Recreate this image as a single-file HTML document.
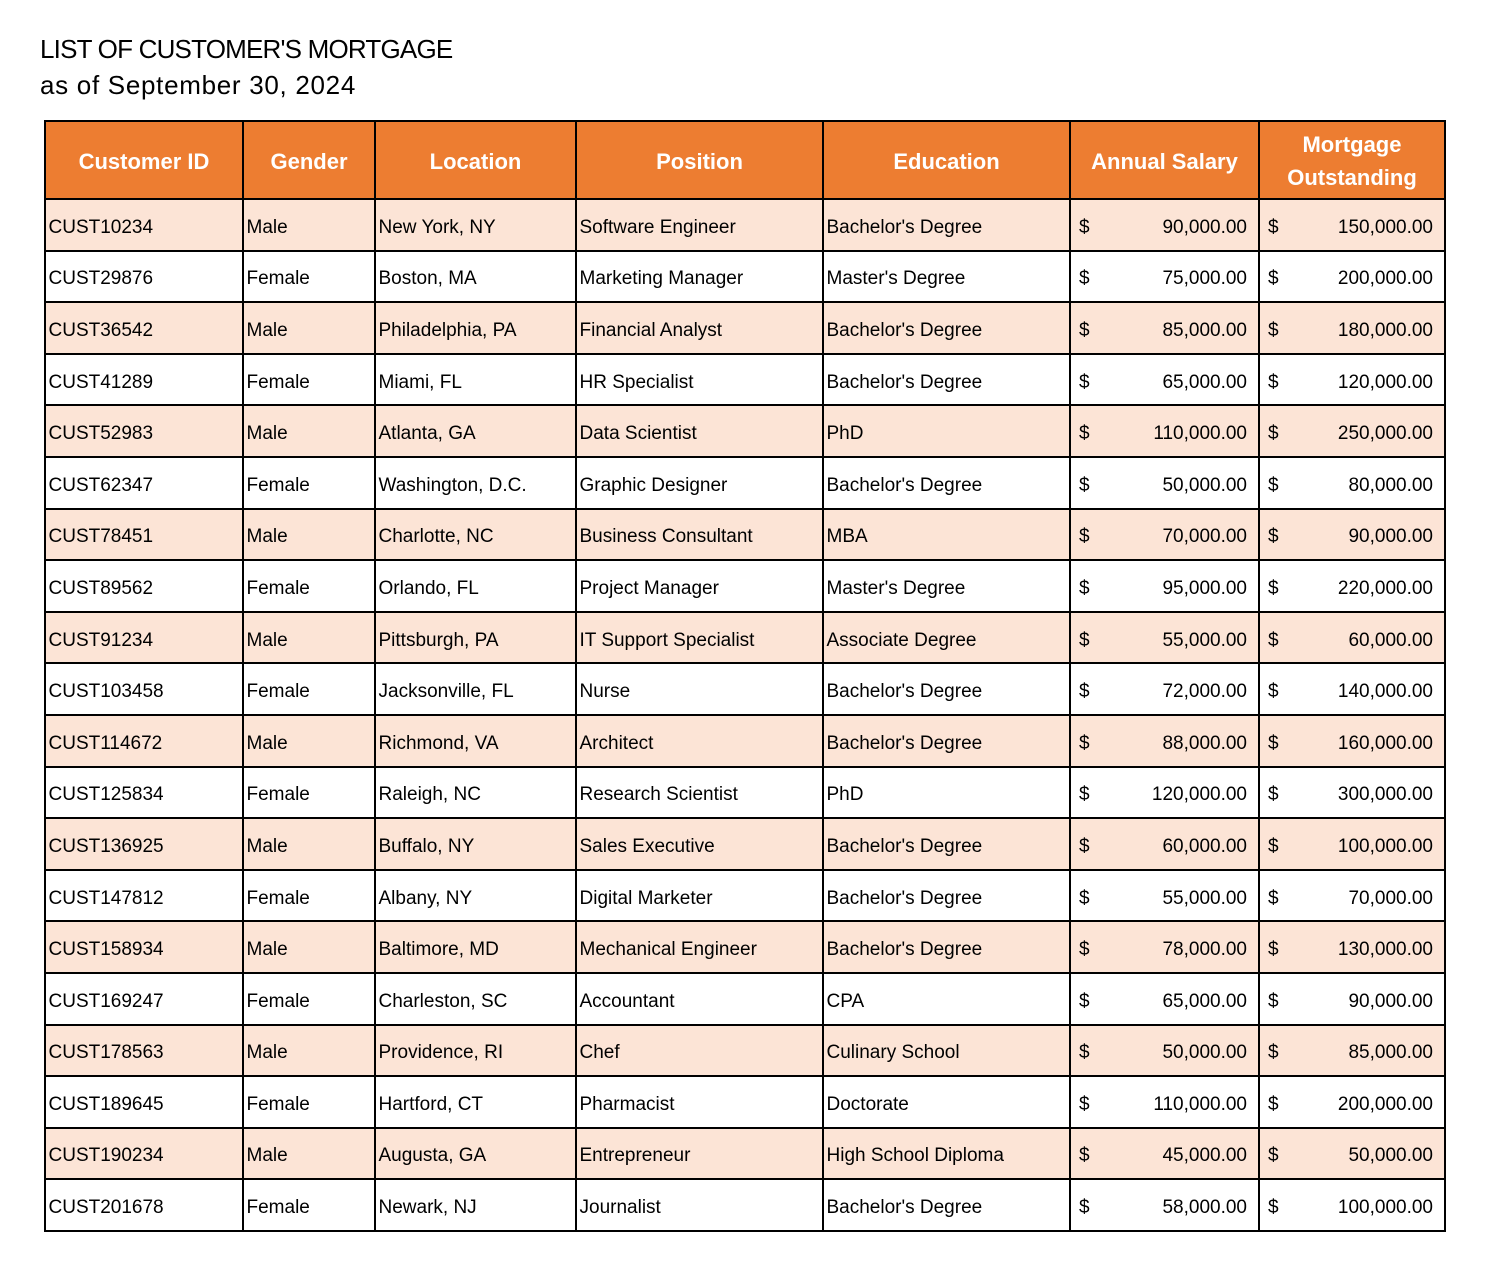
<!DOCTYPE html>
<html>
<head>
<meta charset="utf-8">
<style>
  html, body { margin:0; padding:0; background:#fff; }
  body { width:1502px; height:1281px; position:relative; overflow:hidden;
         font-family:"Liberation Sans", Arial, sans-serif; color:#000; }
  .t1 { position:absolute; left:40px; top:34px; font-size:26px; letter-spacing:-0.8px; line-height:30px; white-space:nowrap; }
  .t2 { position:absolute; left:40px; top:70px; font-size:26px; letter-spacing:0.7px; line-height:30px; white-space:nowrap; }
  .tbl { position:absolute; left:44px; top:120px; border-left:2px solid #000; border-top:2px solid #000; }
  .row { display:grid; grid-template-columns:198px 132px 201px 247px 247px 189px 186px; height:51.6px; }
  .row.h { height:78px; background:#ED7D31; }
  .row.o { background:#FCE4D6; }
  .row > div { box-sizing:border-box; border-right:2px solid #000; border-bottom:2px solid #000;
               display:flex; align-items:center; padding-left:2.5px; padding-top:6px; font-size:19px; white-space:nowrap; overflow:hidden; }
  .row.h > div { justify-content:center; padding-left:0; padding-top:2px; color:#fff; font-weight:bold; font-size:22px; text-align:center; line-height:33px; }
  .row > div.c { justify-content:space-between; padding-left:8px; padding-right:11px; }
</style>
</head>
<body>
<div class="t1">LIST OF CUSTOMER'S MORTGAGE</div>
<div class="t2">as of September 30, 2024</div>
<div class="tbl">
  <div class="row h"><div>Customer ID</div><div>Gender</div><div>Location</div><div>Position</div><div>Education</div><div>Annual Salary</div><div>Mortgage<br>Outstanding</div></div>
  <div class="row o"><div>CUST10234</div><div>Male</div><div>New York, NY</div><div>Software Engineer</div><div>Bachelor's Degree</div><div class="c"><span>$</span><span>90,000.00</span></div><div class="c"><span>$</span><span>150,000.00</span></div></div>
  <div class="row"><div>CUST29876</div><div>Female</div><div>Boston, MA</div><div>Marketing Manager</div><div>Master's Degree</div><div class="c"><span>$</span><span>75,000.00</span></div><div class="c"><span>$</span><span>200,000.00</span></div></div>
  <div class="row o"><div>CUST36542</div><div>Male</div><div>Philadelphia, PA</div><div>Financial Analyst</div><div>Bachelor's Degree</div><div class="c"><span>$</span><span>85,000.00</span></div><div class="c"><span>$</span><span>180,000.00</span></div></div>
  <div class="row"><div>CUST41289</div><div>Female</div><div>Miami, FL</div><div>HR Specialist</div><div>Bachelor's Degree</div><div class="c"><span>$</span><span>65,000.00</span></div><div class="c"><span>$</span><span>120,000.00</span></div></div>
  <div class="row o"><div>CUST52983</div><div>Male</div><div>Atlanta, GA</div><div>Data Scientist</div><div>PhD</div><div class="c"><span>$</span><span>110,000.00</span></div><div class="c"><span>$</span><span>250,000.00</span></div></div>
  <div class="row"><div>CUST62347</div><div>Female</div><div>Washington, D.C.</div><div>Graphic Designer</div><div>Bachelor's Degree</div><div class="c"><span>$</span><span>50,000.00</span></div><div class="c"><span>$</span><span>80,000.00</span></div></div>
  <div class="row o"><div>CUST78451</div><div>Male</div><div>Charlotte, NC</div><div>Business Consultant</div><div>MBA</div><div class="c"><span>$</span><span>70,000.00</span></div><div class="c"><span>$</span><span>90,000.00</span></div></div>
  <div class="row"><div>CUST89562</div><div>Female</div><div>Orlando, FL</div><div>Project Manager</div><div>Master's Degree</div><div class="c"><span>$</span><span>95,000.00</span></div><div class="c"><span>$</span><span>220,000.00</span></div></div>
  <div class="row o"><div>CUST91234</div><div>Male</div><div>Pittsburgh, PA</div><div>IT Support Specialist</div><div>Associate Degree</div><div class="c"><span>$</span><span>55,000.00</span></div><div class="c"><span>$</span><span>60,000.00</span></div></div>
  <div class="row"><div>CUST103458</div><div>Female</div><div>Jacksonville, FL</div><div>Nurse</div><div>Bachelor's Degree</div><div class="c"><span>$</span><span>72,000.00</span></div><div class="c"><span>$</span><span>140,000.00</span></div></div>
  <div class="row o"><div>CUST114672</div><div>Male</div><div>Richmond, VA</div><div>Architect</div><div>Bachelor's Degree</div><div class="c"><span>$</span><span>88,000.00</span></div><div class="c"><span>$</span><span>160,000.00</span></div></div>
  <div class="row"><div>CUST125834</div><div>Female</div><div>Raleigh, NC</div><div>Research Scientist</div><div>PhD</div><div class="c"><span>$</span><span>120,000.00</span></div><div class="c"><span>$</span><span>300,000.00</span></div></div>
  <div class="row o"><div>CUST136925</div><div>Male</div><div>Buffalo, NY</div><div>Sales Executive</div><div>Bachelor's Degree</div><div class="c"><span>$</span><span>60,000.00</span></div><div class="c"><span>$</span><span>100,000.00</span></div></div>
  <div class="row"><div>CUST147812</div><div>Female</div><div>Albany, NY</div><div>Digital Marketer</div><div>Bachelor's Degree</div><div class="c"><span>$</span><span>55,000.00</span></div><div class="c"><span>$</span><span>70,000.00</span></div></div>
  <div class="row o"><div>CUST158934</div><div>Male</div><div>Baltimore, MD</div><div>Mechanical Engineer</div><div>Bachelor's Degree</div><div class="c"><span>$</span><span>78,000.00</span></div><div class="c"><span>$</span><span>130,000.00</span></div></div>
  <div class="row"><div>CUST169247</div><div>Female</div><div>Charleston, SC</div><div>Accountant</div><div>CPA</div><div class="c"><span>$</span><span>65,000.00</span></div><div class="c"><span>$</span><span>90,000.00</span></div></div>
  <div class="row o"><div>CUST178563</div><div>Male</div><div>Providence, RI</div><div>Chef</div><div>Culinary School</div><div class="c"><span>$</span><span>50,000.00</span></div><div class="c"><span>$</span><span>85,000.00</span></div></div>
  <div class="row"><div>CUST189645</div><div>Female</div><div>Hartford, CT</div><div>Pharmacist</div><div>Doctorate</div><div class="c"><span>$</span><span>110,000.00</span></div><div class="c"><span>$</span><span>200,000.00</span></div></div>
  <div class="row o"><div>CUST190234</div><div>Male</div><div>Augusta, GA</div><div>Entrepreneur</div><div>High School Diploma</div><div class="c"><span>$</span><span>45,000.00</span></div><div class="c"><span>$</span><span>50,000.00</span></div></div>
  <div class="row"><div>CUST201678</div><div>Female</div><div>Newark, NJ</div><div>Journalist</div><div>Bachelor's Degree</div><div class="c"><span>$</span><span>58,000.00</span></div><div class="c"><span>$</span><span>100,000.00</span></div></div>
</div>
</body>
</html>
